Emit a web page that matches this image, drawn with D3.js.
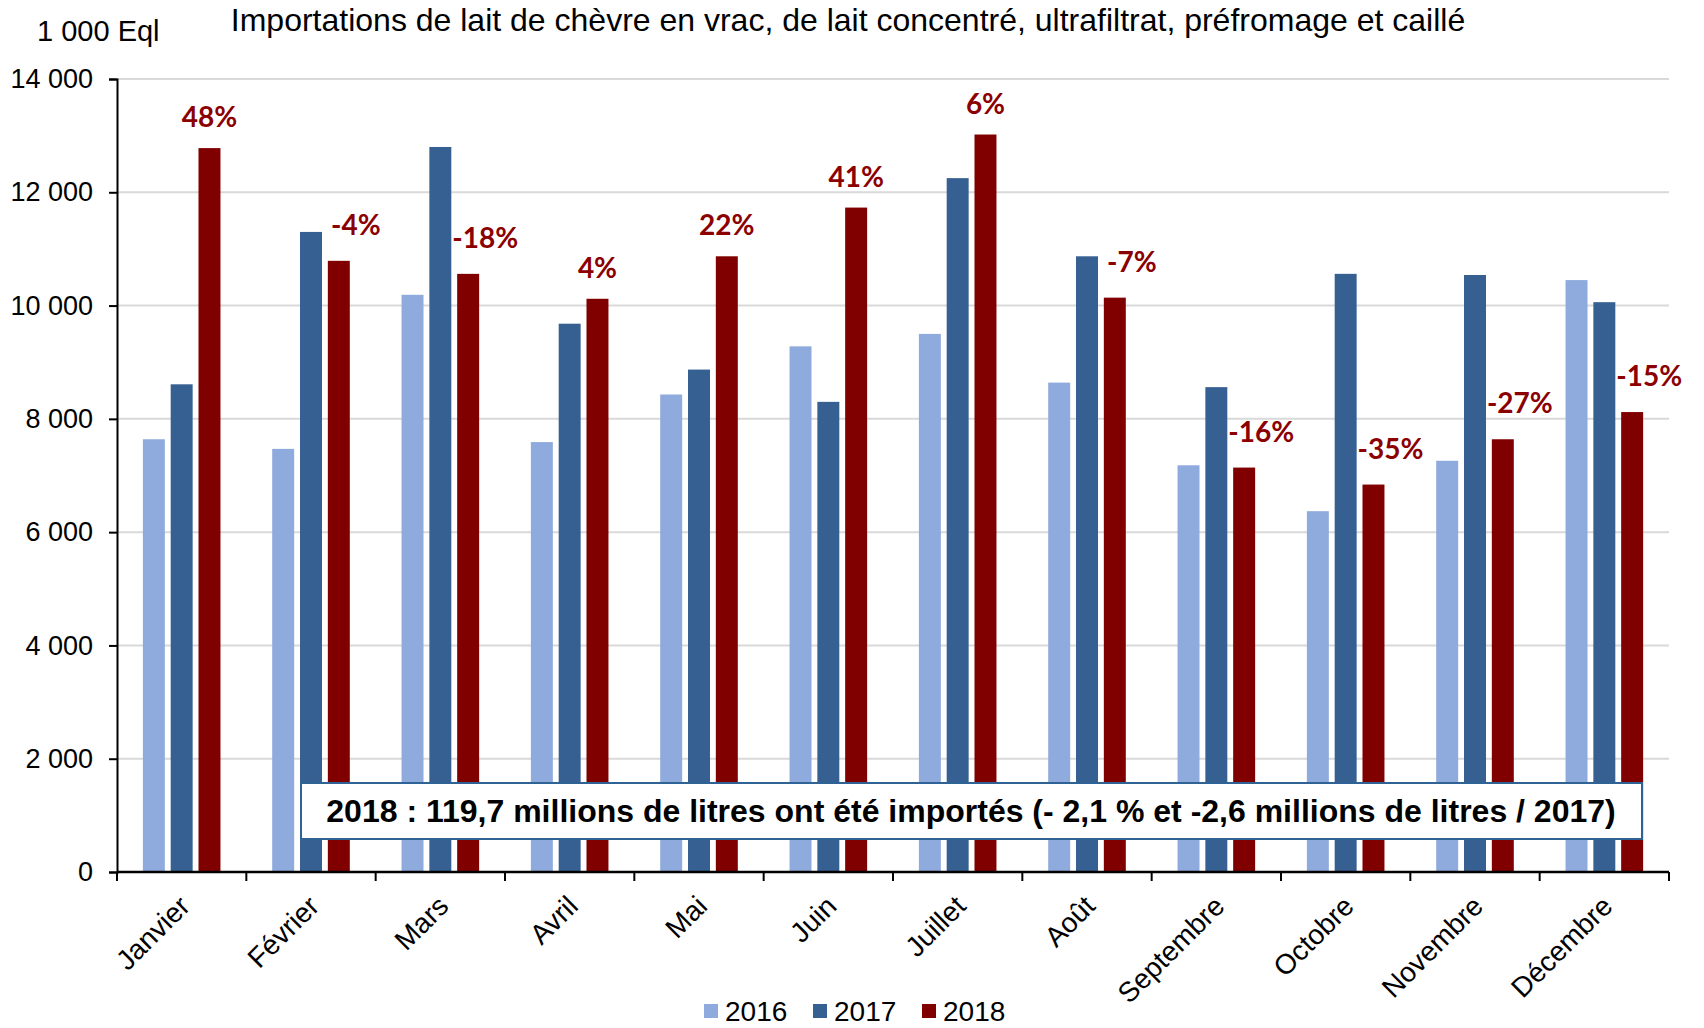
<!DOCTYPE html>
<html>
<head>
<meta charset="utf-8">
<script src="https://cdnjs.cloudflare.com/ajax/libs/d3/7.8.5/d3.min.js"></script>
<style>
  body { margin: 0; background: #fff; }
  svg { display: block; }
</style>
</head>
<body>
<div id="chart"></div>
<script>
var months = ['Janvier', 'Février', 'Mars', 'Avril', 'Mai', 'Juin', 'Juillet', 'Août', 'Septembre', 'Octobre', 'Novembre', 'Décembre'];
var years = ['2016', '2017', '2018'];
var values2016 = [7640, 7470, 10190, 7590, 8430, 9280, 9500, 8640, 7180, 6370, 7260, 10450];
var values2017 = [8610, 11300, 12800, 9680, 8870, 8300, 12250, 10870, 8560, 10560, 10540, 10060];
var values2018 = [12780, 10790, 10560, 10120, 10870, 11730, 13020, 10140, 7140, 6840, 7640, 8120];
var changes = [48, -4, -18, 4, 22, 41, 6, -7, -16, -35, -27, -15];
var yTicks = [0, 2000, 4000, 6000, 8000, 10000, 12000, 14000];

var colors = {'2016': '#8FAADC', '2017': '#376092', '2018': '#800000'};
var labelColor = '#8B0000';
var font = 'Liberation Sans, Arial, sans-serif';

var width = 1704, height = 1028;
var plotLeft = 117, plotRight = 1669, plotTop = 79, plotBottom = 872;

var svg = d3.select('#chart')
	.append('svg')
	.attr('width', width)
	.attr('height', height);

var fr = d3.formatLocale({decimal: ',', thousands: ' ', grouping: [3], currency: ['', ' €']});
var fmt = fr.format(',d');

var x = d3.scaleBand().domain(months).range([plotLeft, plotRight]).padding(0);
var x1 = d3.scaleBand().domain(years)
	.range([x.bandwidth() * 0.2, x.bandwidth() * 0.8])
	.paddingInner(0.21);
var y = d3.scaleLinear().domain([0, 14000]).range([plotBottom, plotTop]);

var series = {'2016': values2016, '2017': values2017, '2018': values2018};

// grid
svg.append('g')
	.selectAll('line')
	.data(yTicks.filter(function(d){ return d > 0; }))
	.enter().append('line')
	.attr('x1', plotLeft).attr('x2', plotRight)
	.attr('y1', function(d){ return y(d); })
	.attr('y2', function(d){ return y(d); })
	.attr('stroke', '#D9D9D9')
	.attr('stroke-width', 2);

// bars
var groups = svg.append('g')
	.selectAll('g')
	.data(months)
	.enter().append('g')
	.attr('transform', function(d){ return 'translate(' + x(d) + ',0)'; });

groups.selectAll('rect')
	.data(function(d, i){
		return years.map(function(yr){ return {year: yr, value: series[yr][i]}; });
	})
	.enter().append('rect')
	.attr('x', function(d){ return x1(d.year); })
	.attr('width', x1.bandwidth())
	.attr('y', function(d){ return y(d.value); })
	.attr('height', function(d){ return y(0) - y(d.value); })
	.attr('fill', function(d){ return colors[d.year]; });

// percent labels over 2018 bars
svg.append('g')
	.selectAll('text')
	.data(changes)
	.enter().append('text')
	.attr('x', function(d, i){
		var cx = x(months[i]) + x1('2018') + x1.bandwidth() / 2;
		return d < 0 ? cx + 17 : cx;
	})
	.attr('y', function(d, i){ return y(values2018[i]) - (d < 0 ? 26 : 21); })
	.attr('text-anchor', 'middle')
	.style('font-family', 'Lato, Carlito, sans-serif')
	.style('font-weight', 'bold')
	.style('font-size', '28px')
	.attr('fill', labelColor)
	.text(function(d){ return d + '%'; });

// y axis
var yAxis = svg.append('g')
	.attr('transform', 'translate(' + plotLeft + ',0)')
	.call(d3.axisLeft(y).tickValues(yTicks).tickFormat(fmt).tickSize(8).tickPadding(16));
yAxis.select('.domain').attr('stroke', '#000').attr('stroke-width', 2);
yAxis.selectAll('.tick line').attr('stroke', '#000').attr('stroke-width', 2);
yAxis.selectAll('text')
	.style('font-family', font)
	.style('font-size', '27px')
	.attr('fill', '#000');

// x axis
var xAxis = svg.append('g')
	.attr('transform', 'translate(0,' + plotBottom + ')');
xAxis.append('line')
	.attr('x1', plotLeft).attr('x2', plotRight)
	.attr('stroke', '#000').attr('stroke-width', 2.5);
xAxis.selectAll('.xtick')
	.data(months.concat(['end']))
	.enter().append('line')
	.attr('x1', function(d){ return d === 'end' ? plotRight : x(d); })
	.attr('x2', function(d){ return d === 'end' ? plotRight : x(d); })
	.attr('y1', 0).attr('y2', 9)
	.attr('stroke', '#000').attr('stroke-width', 2);
xAxis.selectAll('text')
	.data(months)
	.enter().append('text')
	.attr('transform', function(d){
		return 'translate(' + (x(d) + x.bandwidth() / 2 - 4) + ',22) rotate(-45)';
	})
	.attr('text-anchor', 'end')
	.attr('dy', '0.7em')
	.style('font-family', font)
	.style('font-size', '28px')
	.attr('fill', '#000')
	.text(function(d){ return d; });

// titles
svg.append('text')
	.attr('x', 848).attr('y', 31)
	.attr('text-anchor', 'middle')
	.style('font-family', font)
	.style('font-size', '32px')
	.text('Importations de lait de chèvre en vrac, de lait concentré, ultrafiltrat, préfromage et caillé');

svg.append('text')
	.attr('x', 37).attr('y', 41)
	.style('font-family', font)
	.style('font-size', '29px')
	.text('1 000 Eql');

// annotation box
svg.append('rect')
	.attr('x', 301).attr('y', 783)
	.attr('width', 1341).attr('height', 56)
	.attr('fill', '#fff')
	.attr('stroke', '#2F6395')
	.attr('stroke-width', 2);
svg.append('text')
	.attr('x', 971).attr('y', 822)
	.attr('text-anchor', 'middle')
	.style('font-family', font)
	.style('font-weight', 'bold')
	.style('font-size', '32px')
	.text('2018 : 119,7 millions de litres ont été importés (- 2,1 % et -2,6 millions de litres / 2017)');

// legend
var legend = svg.append('g')
	.selectAll('g')
	.data(years)
	.enter().append('g')
	.attr('transform', function(d, i){ return 'translate(' + (704 + i * 109) + ',1004)'; });
legend.append('rect')
	.attr('width', 14).attr('height', 14)
	.attr('fill', function(d){ return colors[d]; });
legend.append('text')
	.attr('x', 21).attr('y', 17)
	.style('font-family', font)
	.style('font-size', '28px')
	.text(function(d){ return d; });
</script>
</body>
</html>
